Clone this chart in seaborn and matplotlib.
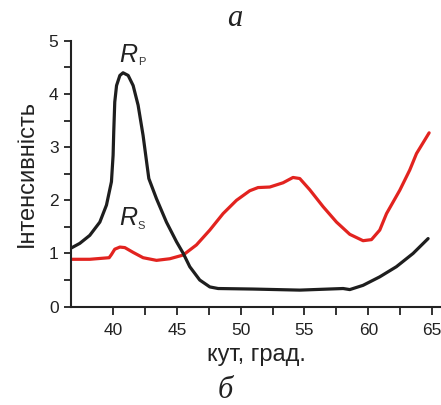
import matplotlib
matplotlib.use("Agg")
import matplotlib.pyplot as plt
import seaborn as sns
import pandas as pd

# Reflectance curves vs. angle of incidence
rp_angle = [36.74, 37.39, 38.17, 38.96, 39.48, 39.87, 40.0, 40.05, 40.13, 40.27,
            40.53, 40.78, 41.18, 41.57, 41.96, 42.35, 42.66, 42.8, 43.4, 44.18,
            44.97, 45.5, 46.01, 46.79, 47.58, 48.23, 50.97, 54.63, 58.03, 58.55,
            59.59, 60.9, 62.2, 63.51, 64.69]
rp_value = [1.105, 1.19, 1.34, 1.59, 1.91, 2.35, 2.85, 3.29, 3.85, 4.16,
            4.35, 4.40, 4.35, 4.16, 3.79, 3.22, 2.66, 2.41, 2.03, 1.59,
            1.22, 1.0, 0.75, 0.50, 0.37, 0.34, 0.33, 0.31, 0.34, 0.32,
            0.40, 0.56, 0.75, 1.0, 1.28]

rs_angle = [36.74, 38.17, 39.69, 39.87, 40.13, 40.53, 40.92, 41.57, 42.35, 43.4,
            44.44, 45.49, 46.53, 47.58, 48.62, 49.67, 50.71, 51.36, 52.28, 53.32,
            54.1, 54.63, 55.41, 56.46, 57.51, 58.55, 59.59, 60.25, 60.9, 61.43,
            62.47, 63.25, 63.78, 64.77]
rs_value = [0.89, 0.89, 0.92, 0.98, 1.08, 1.12, 1.11, 1.02, 0.92, 0.87,
            0.90, 0.97, 1.16, 1.44, 1.75, 2.0, 2.18, 2.24, 2.25, 2.33,
            2.43, 2.41, 2.20, 1.88, 1.59, 1.36, 1.24, 1.26, 1.44, 1.75,
            2.19, 2.57, 2.88, 3.27]

x_ticks = [40, 45, 50, 55, 60, 65]
y_ticks = [0, 1, 2, 3, 4, 5]

sns.set_style("ticks")
plt.rcParams["font.family"] = ["Liberation Sans", "DejaVu Sans"]

fig = plt.figure(figsize=(4.41, 4.05), dpi=100)
ax = fig.add_axes([0.161, 0.243, 0.839, 0.656])

rp = pd.DataFrame({"angle": rp_angle, "value": rp_value})
rs = pd.DataFrame({"angle": rs_angle, "value": rs_value})
sns.lineplot(data=rs, x="angle", y="value", sort=False, color="#e2231f",
             linewidth=2.3, ax=ax, solid_joinstyle="round", solid_capstyle="round")
sns.lineplot(data=rp, x="angle", y="value", sort=False, color="#1e1e1e",
             linewidth=2.3, ax=ax, solid_joinstyle="round", solid_capstyle="round")

ax.set_xlim(36.7, 65.7)
ax.set_ylim(0, 5)
ax.set_xticks(x_ticks)
ax.set_yticks(y_ticks)
ax.set_xticks([x + 2.5 for x in x_ticks[:-1]], minor=True)
ax.set_yticks([y + 0.5 for y in y_ticks[:-1]], minor=True)
ax.tick_params(which="both", direction="out", length=5, width=1.3, color="#222222")
ax.tick_params(axis="x", which="both", length=6)
ax.tick_params(axis="both", labelsize=12.5, colors="#222222", pad=4)
ax.tick_params(axis="x", pad=6)

sns.despine(ax=ax)
for side in ("left", "bottom"):
    ax.spines[side].set_linewidth(1.5)
    ax.spines[side].set_color("#222222")

ax.set_xlabel("кут, град.", fontsize=17, color="#222222", labelpad=4)
ax.set_ylabel("Інтенсивність", fontsize=17, color="#222222", labelpad=8)

# Curve labels
ax.text(40.5, 4.61, "R", style="italic", fontsize=18, color="#222222", va="baseline")
ax.text(41.94, 4.55, "P", fontsize=8, color="#333333", va="baseline")
ax.text(40.5, 1.53, "R", style="italic", fontsize=18, color="#222222", va="baseline")
ax.text(41.94, 1.46, "S", fontsize=8, color="#333333", va="baseline")

# Panel letters
fig.text(235 / 441, 1 - 26 / 405, "а", family="Liberation Serif", style="italic",
         fontsize=22, ha="center", va="baseline", color="#222222")
fig.text(225 / 441, 1 - 398 / 405, "б", family="Liberation Serif", style="italic",
         fontsize=22, ha="center", va="baseline", color="#222222")

fig.savefig("out.png", dpi=100)
